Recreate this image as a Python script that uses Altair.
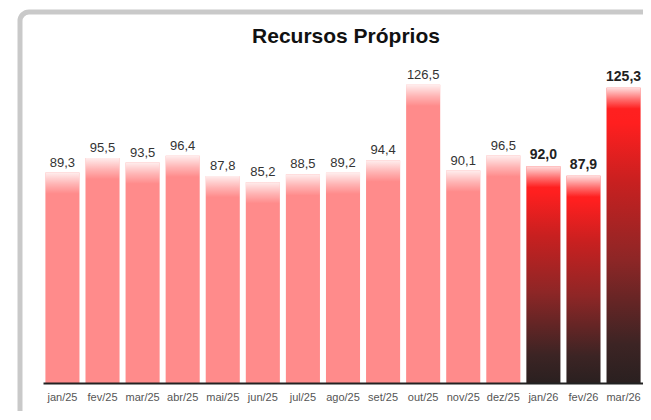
import altair as alt
import pandas as pd

months = ["jan/25", "fev/25", "mar/25", "abr/25", "mai/25", "jun/25", "jul/25",
          "ago/25", "set/25", "out/25", "nov/25", "dez/25", "jan/26", "fev/26", "mar/26"]
values = [89.3, 95.5, 93.5, 96.4, 87.8, 85.2, 88.5, 89.2, 94.4, 126.5, 90.1, 96.5, 92.0, 87.9, 125.3]
years = ["2025"] * 12 + ["2026"] * 3
title_text = ["Recursos Próprios"]

df = pd.DataFrame({"mes": months, "valor": values, "ano": years})

W, H = 600, 330
FONT = "Liberation Sans"

base = alt.Chart(df).transform_calculate(
    rotulo="replace(format(datum.valor, '.1f'), '.', ',')",
    topo="datum.valor - 9",
)

x = alt.X("mes:N", sort=months, title=None,
          scale=alt.Scale(paddingInner=0.15, paddingOuter=0.06),
          axis=alt.Axis(labelAngle=0, labelFont=FONT, labelFontSize=11, labelColor="#555555",
                        labelPadding=8, ticks=False, domainColor="#222222", domainWidth=2,
                        grid=False, zindex=2))
y_scale = alt.Scale(domain=[0, 140], nice=False)
y = alt.Y("valor:Q", scale=y_scale, axis=None)

frame = alt.Chart(pd.DataFrame({"a": [0]})).mark_rect(
    fill="transparent", stroke="#C9C9C9", strokeWidth=5, cornerRadius=9
).encode(x=alt.value(-23), x2=alt.value(W + 60), y=alt.value(-41), y2=alt.value(H + 80))

title = alt.Chart(pd.DataFrame({"t": title_text})).mark_text(
    font=FONT, fontSize=21, fontWeight="bold", color="#111111",
    align="center", baseline="alphabetic"
).encode(x=alt.value(W / 2 + 3), y=alt.value(-10), text="t:N")

bars25 = base.transform_filter("datum.ano == '2025'").mark_bar(color="#FF8B8B").encode(x=x, y=y)

grad26 = alt.Gradient(
    gradient="linear", x1=0, x2=0, y1=0, y2=1,
    stops=[alt.GradientStop(color="#FF2222", offset=0),
           alt.GradientStop(color="#FF1F1F", offset=0.12),
           alt.GradientStop(color="#C82020", offset=0.32),
           alt.GradientStop(color="#8E2626", offset=0.58),
           alt.GradientStop(color="#3C2424", offset=0.87),
           alt.GradientStop(color="#2A2020", offset=1)])
bars26 = base.transform_filter("datum.ano == '2026'").mark_bar(color=grad26).encode(x=x, y=y)

fade = alt.Gradient(
    gradient="linear", x1=0, x2=0, y1=0, y2=1,
    stops=[alt.GradientStop(color="rgba(255,255,255,0.85)", offset=0),
           alt.GradientStop(color="rgba(255,255,255,0.35)", offset=0.55),
           alt.GradientStop(color="rgba(255,255,255,0)", offset=1)])
overlay = base.mark_bar(color=fade).encode(x=x, y=y, y2="topo:Q")

text25 = base.transform_filter("datum.ano == '2025'").mark_text(
    font=FONT, fontSize=13, color="#333333", baseline="alphabetic", dy=-6
).encode(x=x, y=y, text="rotulo:N")
text26 = base.transform_filter("datum.ano == '2026'").mark_text(
    font=FONT, fontSize=14, fontWeight="bold", color="#222222", baseline="alphabetic", dy=-7
).encode(x=x, y=y, text="rotulo:N")

chart = alt.layer(frame, title, bars25, bars26, overlay, text25, text26).properties(
    width=W, height=H,
    autosize=alt.AutoSizeParams(type="none"),
    padding={"left": 35, "top": 45, "right": 0, "bottom": 28},
    background="white",
).configure_view(stroke=None)

chart.save("out.html", embed_options={"renderer": "svg", "actions": False})
